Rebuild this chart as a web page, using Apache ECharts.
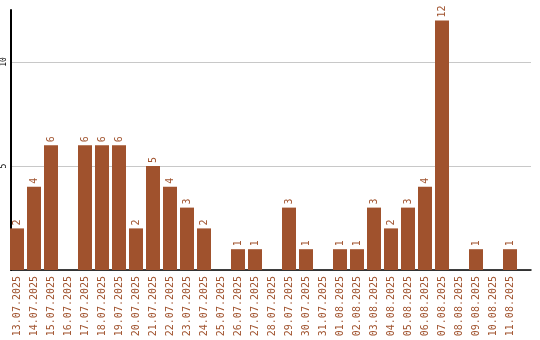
<!DOCTYPE html>
<html><head><meta charset="utf-8">
<script src="https://cdn.jsdelivr.net/npm/echarts@6/dist/echarts.min.js"></script>
<style>html,body{margin:0;padding:0;background:#fff}#c{width:540px;height:340px}</style>
</head><body><div id="c"></div>
<script>
const categories = ["13.07.2025","14.07.2025","15.07.2025","16.07.2025","17.07.2025","18.07.2025","19.07.2025","20.07.2025","21.07.2025","22.07.2025","23.07.2025","24.07.2025","25.07.2025","26.07.2025","27.07.2025","28.07.2025","29.07.2025","30.07.2025","31.07.2025","01.08.2025","02.08.2025","03.08.2025","04.08.2025","05.08.2025","06.08.2025","07.08.2025","08.08.2025","09.08.2025","10.08.2025","11.08.2025"];
const values = [2,4,6,0,6,6,6,2,5,4,3,2,0,1,1,0,3,1,0,1,1,3,2,3,4,12,0,1,0,1];
const yTicks = [0,5,10];
const yMax = 12.5;
const chart = echarts.init(document.getElementById('c'), null, {renderer:'canvas'});
chart.setOption({
  animation:false,
  grid:[
    {left:11,right:9,top:10,bottom:70,containLabel:false},
    {left:8.5,width:510,top:10,bottom:70,containLabel:false}
  ],
  xAxis:[
    {gridIndex:0,type:'value',min:0,max:1,
      axisLine:{show:true,onZero:false,lineStyle:{color:'#000',width:1.5}},
      axisTick:{show:false},axisLabel:{show:false},splitLine:{show:false}},
    {gridIndex:1,type:'category',data:categories,
      axisLine:{show:false},axisTick:{show:false},
      axisLabel:{rotate:90,interval:0,color:'#a0522d',fontFamily:'DejaVu Sans Mono',fontSize:10,margin:6}}
  ],
  yAxis:[
    {gridIndex:0,type:'value',min:0,max:yMax,interval:5,
      axisLine:{show:true,lineStyle:{color:'#000',width:2}},
      axisTick:{show:false},
      splitLine:{lineStyle:{color:['#c8c8c8','#c8c8c8','#c8c8c8','rgba(0,0,0,0)'],width:1}},
      axisLabel:{rotate:90,color:'#000',fontFamily:'DejaVu Sans Mono',fontSize:8,margin:3,
        formatter:v=>(yTicks.includes(v)&&v!==0)?String(v):''}},
    {gridIndex:1,type:'value',min:0,max:yMax,show:false}
  ],
  series:[{type:'bar',xAxisIndex:1,yAxisIndex:1,data:values,barWidth:14,
    itemStyle:{color:'#a0522d'},
    label:{show:true,position:'top',rotate:90,align:'left',verticalAlign:'middle',distance:3,
      color:'#a0522d',fontFamily:'DejaVu Sans Mono',fontSize:10,
      formatter:p=>p.value>0?String(p.value):''}}]
});
</script></body></html>
